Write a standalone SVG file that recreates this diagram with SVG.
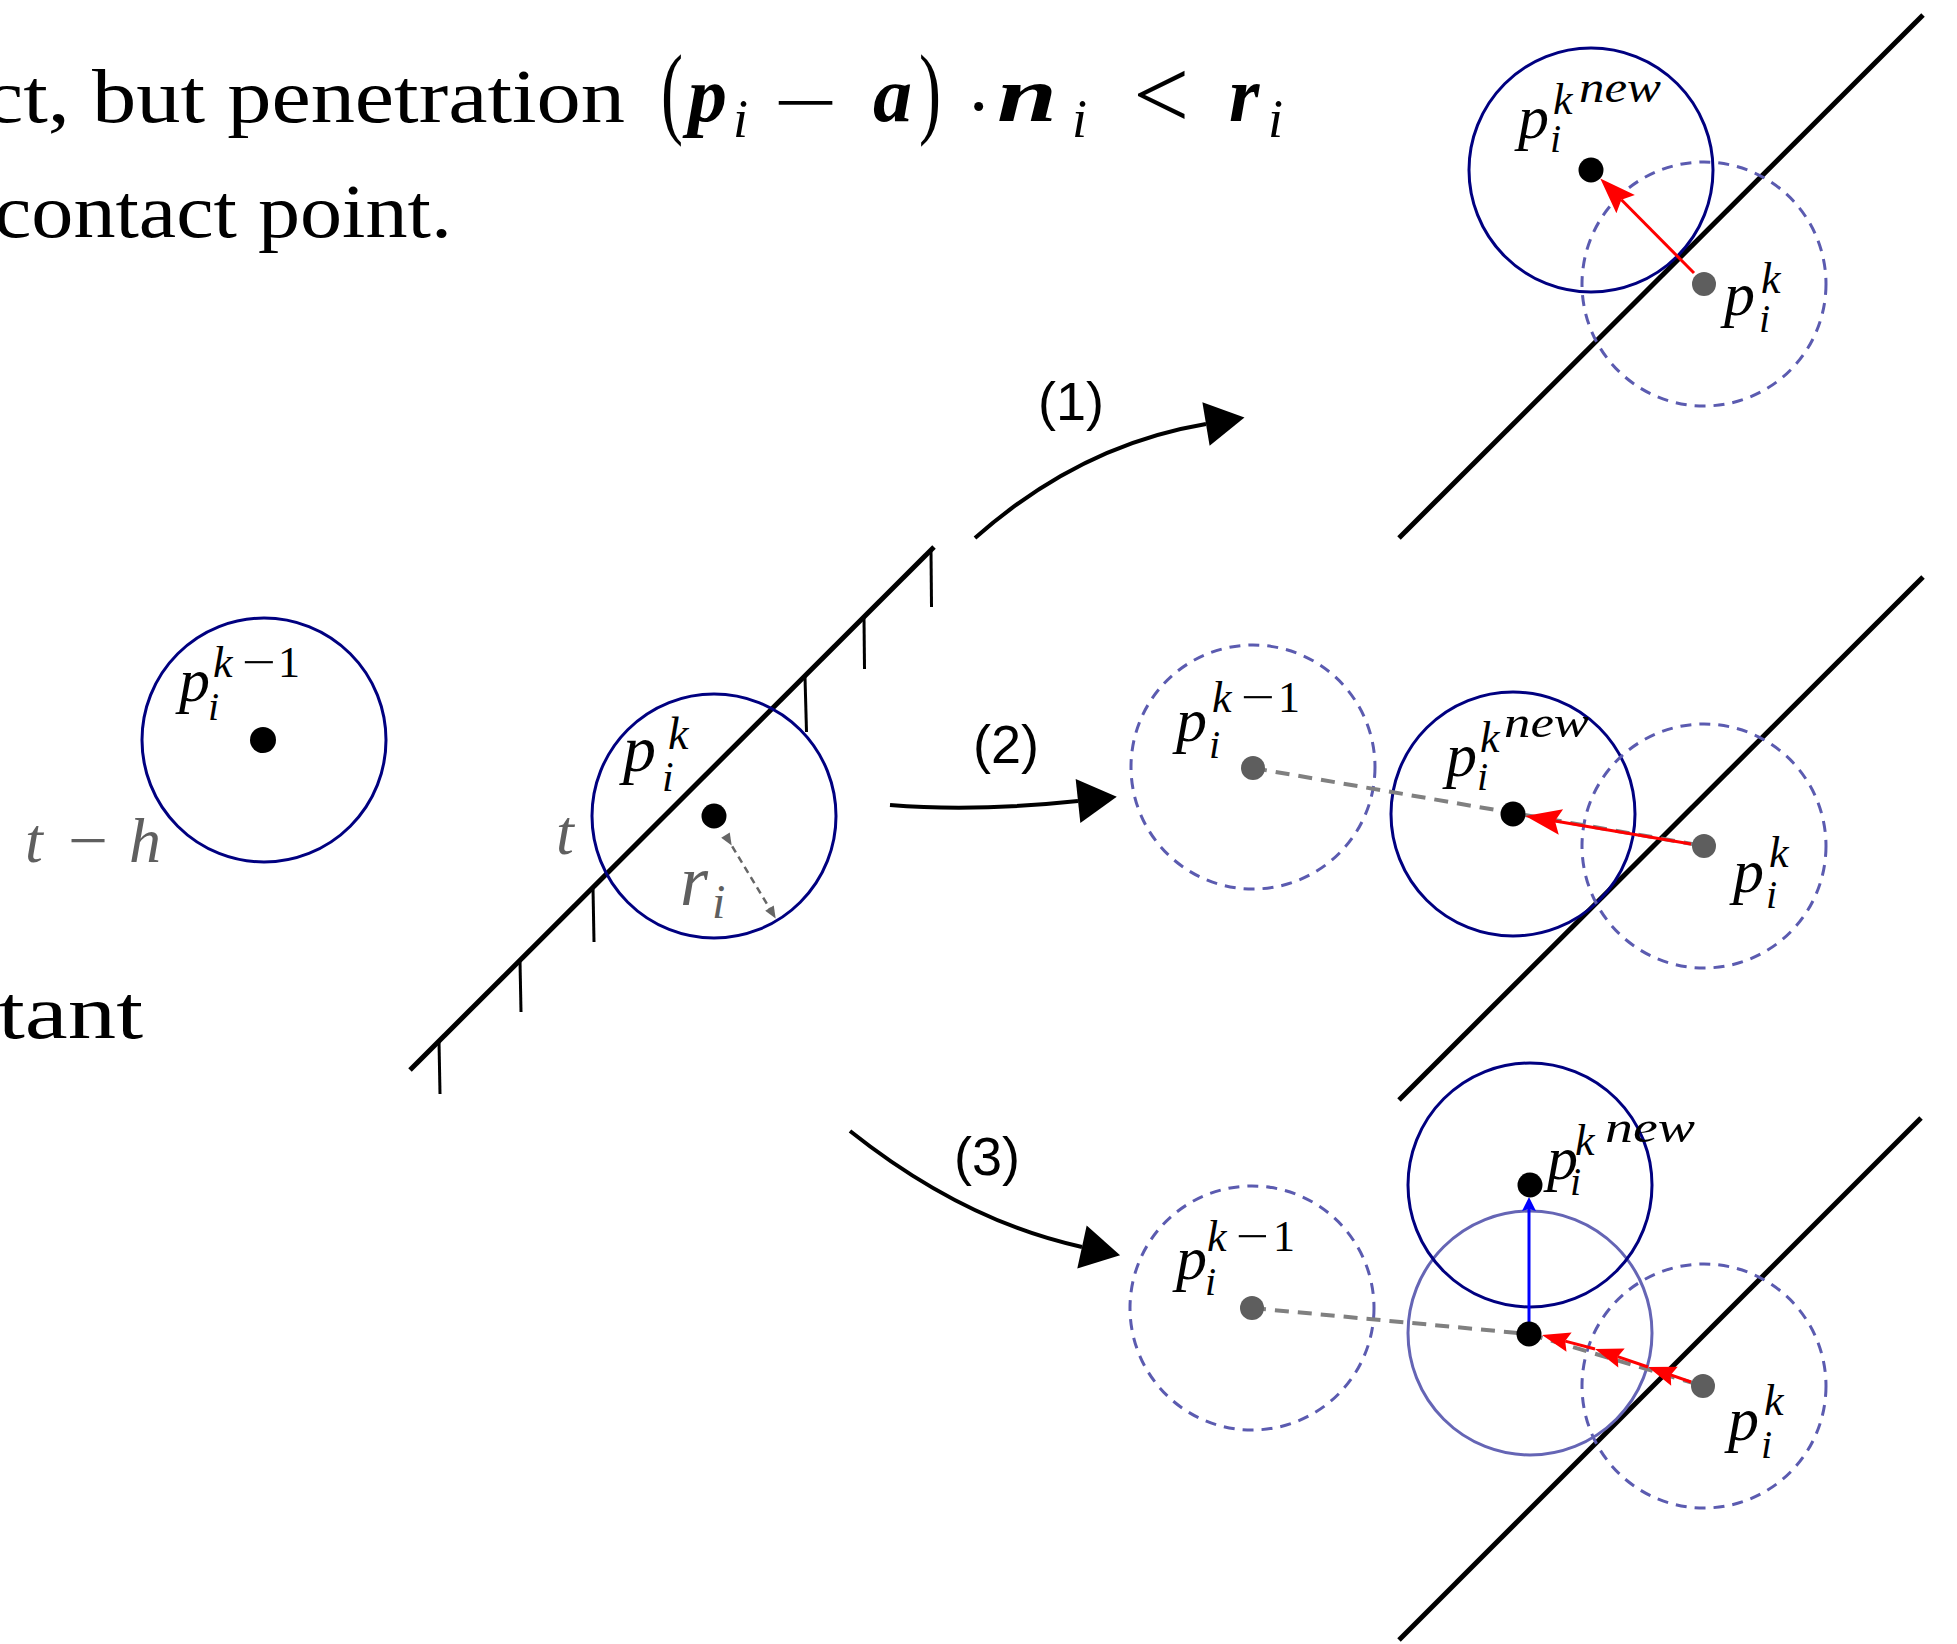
<svg xmlns="http://www.w3.org/2000/svg" width="1957" height="1644" viewBox="0 0 1957 1644">
<style>
.navy{fill:none;stroke:#000080;stroke-width:3}
.ghost{fill:none;stroke:#5b5bb0;stroke-width:3;stroke-dasharray:11 8}
.light{fill:none;stroke:#6565b5;stroke-width:3}
.wall{stroke:#000;stroke-width:5;fill:none}
.tick{stroke:#000;stroke-width:3}
.trail{stroke:#808080;stroke-width:4;stroke-dasharray:14 9;fill:none}
.red{stroke:#ff0000;stroke-width:3;fill:none}
.blue{stroke:#0000ff;stroke-width:3;fill:none}
.curve{stroke:#000;stroke-width:4;fill:none}
.rad{stroke:#666;stroke-width:2.5;stroke-dasharray:7 5;fill:none}
.dot{fill:#000}
.gdot{fill:#5e5e5e}
.m{font-family:"Liberation Serif",serif;font-style:italic;fill:#000}
.up{font-family:"Liberation Serif",serif;fill:#000}
.g{fill:#5f5f5f}
.lab{font-family:"Liberation Sans",Arial,sans-serif;font-size:54px;fill:#000}
.body{font-family:"Liberation Serif",serif;font-size:76px;fill:#000}
.bm{font-family:"Liberation Serif",serif;font-style:italic;font-weight:bold;font-size:78px;fill:#000}
</style>
<defs>
<marker id="bh" markerUnits="userSpaceOnUse" viewBox="-2 -24 44 48" markerWidth="44" markerHeight="48" refX="0" refY="0" orient="auto" overflow="visible">
<path d="M0,-22 L39,0 L0,22 Z" fill="#000"/>
</marker>
<marker id="rh" markerUnits="userSpaceOnUse" viewBox="-8 -15 40 30" markerWidth="40" markerHeight="30" refX="0" refY="0" orient="auto" overflow="visible">
<path d="M-6,-13 L30,0 L-6,13 L0,0 Z" fill="#ff0000"/>
</marker>
<marker id="rs" markerUnits="userSpaceOnUse" viewBox="-6 -12 32 24" markerWidth="32" markerHeight="24" refX="0" refY="0" orient="auto" overflow="visible">
<path d="M-4,-10 L24,0 L-4,10 L0,0 Z" fill="#ff0000"/>
</marker>
<marker id="blh" markerUnits="userSpaceOnUse" viewBox="-4 -9 18 18" markerWidth="18" markerHeight="18" refX="0" refY="0" orient="auto" overflow="visible">
<path d="M-2,-7 L12,0 L-2,7 L0,0 Z" fill="#0000ff"/>
</marker>
<marker id="gh" markerUnits="userSpaceOnUse" viewBox="-2 -7 14 14" markerWidth="14" markerHeight="14" refX="0" refY="0" orient="auto" overflow="visible">
<path d="M-1,-5 L11,0 L-1,5 Z" fill="#666"/>
</marker>
</defs>

<g id="prose">
<text class="body" x="-16" y="122" textLength="641" lengthAdjust="spacingAndGlyphs">ct, but penetration</text>
<text class="up" x="661" y="125" font-size="101" textLength="22" lengthAdjust="spacingAndGlyphs">(</text>
<text class="bm" x="688" y="121">p</text>
<text class="m" x="733" y="137" font-size="54">i</text>
<text class="up" x="773" y="128" font-size="76" textLength="65" lengthAdjust="spacingAndGlyphs">−</text>
<text class="bm" x="873" y="121">a</text>
<text class="up" x="919" y="125" font-size="101" textLength="22" lengthAdjust="spacingAndGlyphs">)</text>
<text class="up" x="966" y="132" font-size="76">·</text>
<text class="bm" x="997" y="121" textLength="60" lengthAdjust="spacingAndGlyphs">n</text>
<text class="m" x="1072" y="137" font-size="54">i</text>
<text class="up" x="1133" y="128" font-size="100">&lt;</text>
<text class="bm" x="1229" y="121">r</text>
<text class="m" x="1268" y="137" font-size="54">i</text>
<text class="body" x="-6" y="237" textLength="458" lengthAdjust="spacingAndGlyphs">contact point.</text>
<text class="body" x="-2" y="1038" textLength="145" lengthAdjust="spacingAndGlyphs">tant</text>
</g>

<g id="state-prev">
<circle class="navy" cx="264" cy="740" r="122"/>
<circle class="dot" cx="263" cy="740" r="13"/>
<text class="m" x="179" y="701" font-size="62">p</text>
<text class="m" x="208" y="720" font-size="40">i</text>
<text class="m" x="213" y="677" font-size="44">k</text>
<text class="up" x="242" y="677" font-size="44" textLength="34" lengthAdjust="spacingAndGlyphs">−</text>
<text class="up" x="278" y="677" font-size="44">1</text>
<text class="m g" x="25" y="862" font-size="64">t</text>
<text class="up g" x="68" y="862" font-size="64" textLength="40" lengthAdjust="spacingAndGlyphs">−</text>
<text class="m g" x="129" y="862" font-size="64">h</text>
</g>

<g id="state-contact">
<line class="wall" x1="410" y1="1070" x2="934" y2="547"/>
<line class="tick" x1="931" y1="551" x2="931.5" y2="607"/>
<line class="tick" x1="864" y1="618" x2="864.5" y2="669"/>
<line class="tick" x1="805" y1="677" x2="806.5" y2="732"/>
<line class="tick" x1="593" y1="888" x2="594" y2="942"/>
<line class="tick" x1="520" y1="961" x2="521" y2="1012"/>
<line class="tick" x1="439" y1="1041" x2="440" y2="1094"/>
<circle class="navy" cx="714" cy="816" r="122"/>
<circle class="dot" cx="714" cy="816" r="12.5"/>
<line class="rad" x1="726" y1="836" x2="770" y2="909" marker-start="url(#gh)" marker-end="url(#gh)"/>
<text class="m" x="623" y="771" font-size="66">p</text>
<text class="m" x="662" y="791" font-size="42">i</text>
<text class="m" x="668" y="749" font-size="46">k</text>
<text class="m g" x="556" y="854" font-size="64">t</text>
<text class="m g" x="680" y="905" font-size="72">r</text>
<text class="m g" x="712" y="918" font-size="48">i</text>
</g>

<g id="case1">
<line class="wall" x1="1923" y1="15" x2="1399" y2="538"/>
<circle class="ghost" cx="1704" cy="284" r="122"/>
<circle class="navy" cx="1591" cy="170" r="122"/>
<circle class="gdot" cx="1704" cy="284" r="12"/>
<circle class="dot" cx="1591" cy="170" r="12.5"/>
<text class="m" x="1518" y="138" font-size="62">p</text>
<text class="m" x="1550" y="152" font-size="40">i</text>
<text class="m" x="1553" y="114" font-size="44">k</text>
<text class="m" x="1579" y="102" font-size="44" textLength="82" lengthAdjust="spacingAndGlyphs">new</text>
<text class="m" x="1724" y="315" font-size="62">p</text>
<text class="m" x="1759" y="332" font-size="40">i</text>
<text class="m" x="1761" y="293" font-size="44">k</text>
</g>

<g id="case2">
<line class="wall" x1="1923" y1="577" x2="1399" y2="1100"/>
<circle class="ghost" cx="1253" cy="767" r="122"/>
<circle class="navy" cx="1513" cy="814" r="122"/>
<circle class="ghost" cx="1704" cy="846" r="122"/>
<line class="trail" x1="1253" y1="768" x2="1704" y2="846"/>
<circle class="gdot" cx="1253" cy="768" r="12"/>
<circle class="gdot" cx="1704" cy="846" r="12"/>
<circle class="dot" cx="1513" cy="814" r="12.5"/>
<text class="m" x="1176" y="741" font-size="62">p</text>
<text class="m" x="1209" y="758" font-size="40">i</text>
<text class="m" x="1212" y="712" font-size="44">k</text>
<text class="up" x="1241" y="712" font-size="44" textLength="34" lengthAdjust="spacingAndGlyphs">−</text>
<text class="up" x="1278" y="712" font-size="44">1</text>
<text class="m" x="1446" y="776" font-size="62">p</text>
<text class="m" x="1477" y="790" font-size="40">i</text>
<text class="m" x="1480" y="752" font-size="44">k</text>
<text class="m" x="1504" y="737" font-size="44" textLength="85" lengthAdjust="spacingAndGlyphs">new</text>
<text class="m" x="1733" y="892" font-size="62">p</text>
<text class="m" x="1766" y="908" font-size="40">i</text>
<text class="m" x="1769" y="867" font-size="44">k</text>
</g>

<g id="case3">
<line class="wall" x1="1921" y1="1118" x2="1399" y2="1640"/>
<circle class="ghost" cx="1252" cy="1308" r="122"/>
<circle class="ghost" cx="1704" cy="1386" r="122"/>
<circle class="light" cx="1530" cy="1333" r="122"/>
<circle class="navy" cx="1530" cy="1185" r="122"/>
<line class="trail" x1="1252" y1="1308" x2="1529" y2="1334"/>
<line class="trail" x1="1529" y1="1334" x2="1703" y2="1386"/>
<circle class="gdot" cx="1252" cy="1308" r="12"/>
<circle class="gdot" cx="1703" cy="1386" r="12"/>
<text class="m" x="1547" y="1179" font-size="62">p</text>
<text class="m" x="1570" y="1195" font-size="40">i</text>
<text class="m" x="1575" y="1155" font-size="44">k</text>
<text class="m" x="1605" y="1142" font-size="44" textLength="90" lengthAdjust="spacingAndGlyphs">new</text>
<text class="m" x="1176" y="1279" font-size="62">p</text>
<text class="m" x="1205" y="1295" font-size="40">i</text>
<text class="m" x="1207" y="1251" font-size="44">k</text>
<text class="up" x="1236" y="1251" font-size="44" textLength="33" lengthAdjust="spacingAndGlyphs">−</text>
<text class="up" x="1273" y="1251" font-size="44">1</text>
<text class="m" x="1728" y="1440" font-size="62">p</text>
<text class="m" x="1761" y="1458" font-size="40">i</text>
<text class="m" x="1764" y="1415" font-size="44">k</text>
</g>

<g id="connectors">
<path class="curve" d="M975,538 Q1080,445 1206,424" marker-end="url(#bh)"/>
<path class="curve" d="M890,805 Q975,812 1078,801" marker-end="url(#bh)"/>
<path class="curve" d="M850,1131 Q963,1221 1082,1247" marker-end="url(#bh)"/>
<text class="lab" x="1038" y="420">(1)</text>
<text class="lab" x="973" y="763">(2)</text>
<text class="lab" x="954" y="1175">(3)</text>
<line class="red" x1="1694" y1="273" x2="1621.4" y2="199.8" marker-end="url(#rh)"/>
<line class="red" x1="1691" y1="844" x2="1555" y2="821" marker-end="url(#rh)"/>
<line class="red" x1="1691" y1="1382" x2="1670.7" y2="1374.9" marker-end="url(#rs)"/>
<line class="red" x1="1648" y1="1367" x2="1617.7" y2="1356.7" marker-end="url(#rs)"/>
<line class="red" x1="1595" y1="1349" x2="1565.2" y2="1341.1" marker-end="url(#rs)"/>
<line class="blue" x1="1529" y1="1334" x2="1529" y2="1209" marker-end="url(#blh)"/>
<circle class="dot" cx="1529" cy="1334" r="12.5"/>
<circle class="dot" cx="1530" cy="1185" r="12.5"/>
</g>
</svg>
